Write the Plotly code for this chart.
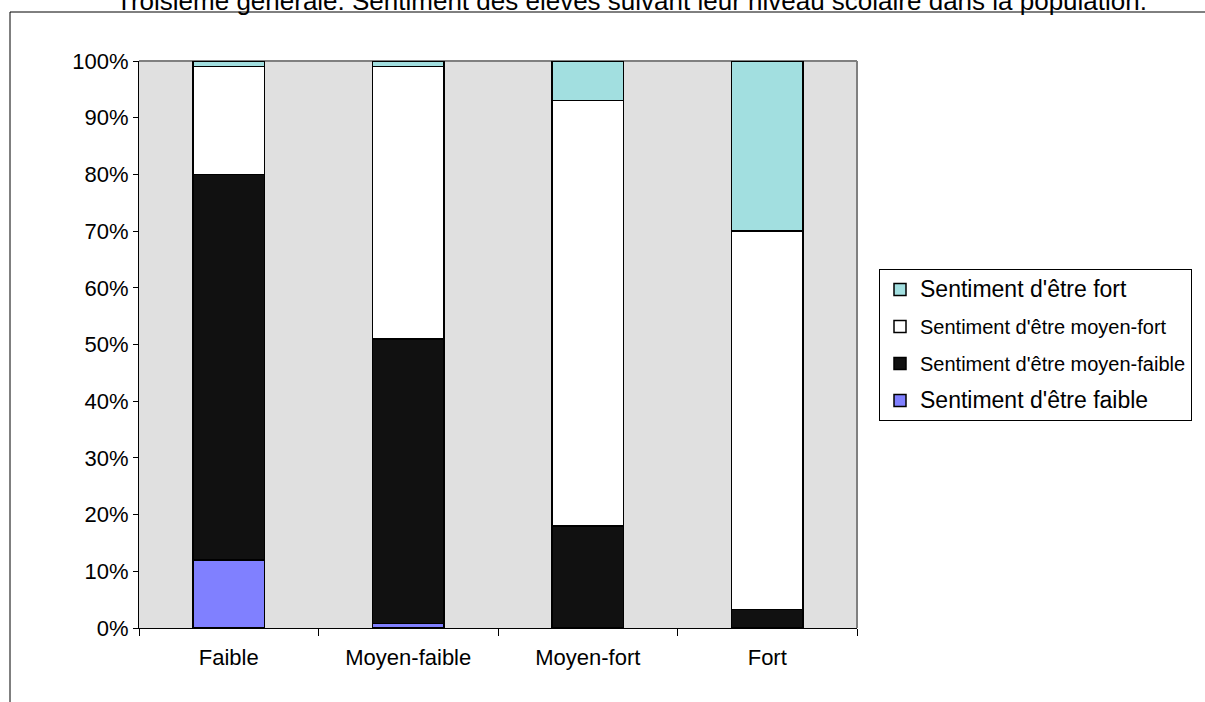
import plotly.graph_objects as go

categories = ["Faible", "Moyen-faible", "Moyen-fort", "Fort"]
faible = [12, 0.8, 0, 0]
moyen_faible = [68, 50.2, 18, 3.3]
moyen_fort = [19, 48, 75, 66.7]
fort = [1, 1, 7, 30]

series_names = [
    "Sentiment d'être faible",
    "Sentiment d'être moyen-faible",
    "Sentiment d'être moyen-fort",
    "Sentiment d'être fort",
]
series_values = [faible, moyen_faible, moyen_fort, fort]
series_colors = ["#8080FF", "#111111", "#FFFFFF", "#A2DFE0"]
legend_sizes = [23, 20, 20, 23]
legend_ranks = [4, 3, 2, 1]

title_text = "Troisième générale. Sentiment des élèves suivant leur niveau scolaire dans la population."
tick_vals = list(range(0, 101, 10))
tick_text = [f"{v}%" for v in tick_vals]

FONT = "Arial, Liberation Sans, sans-serif"

W, H = 1205, 702
L, R, T, B = 139, 348, 61, 74
pw, ph = W - L - R, H - T - B


def px_x(p):
    return (p - L) / pw


def px_y(p):
    return (H - B - p) / ph


fig = go.Figure()
for name, vals, col, fs, rk in zip(series_names, series_values, series_colors,
                                   legend_sizes, legend_ranks):
    fig.add_trace(go.Bar(
        x=categories, y=vals, name=f'<span style="font-size:{fs}px">{name}</span>',
        legendgroup=name, legendrank=rk,
        marker=dict(color=col, line=dict(color="#000000", width=1.5)),
        hoverinfo="skip",
    ))

fig.update_layout(
    width=W, height=H,
    margin=dict(l=L, r=R, t=T, b=B, autoexpand=False),
    paper_bgcolor="white",
    plot_bgcolor="#E0E0E0",
    barmode="stack",
    bargap=0.6,
    font=dict(family=FONT, color="#000000", size=22),
    showlegend=True,
    legend=dict(
        x=px_x(879), y=px_y(269), xanchor="left", yanchor="top",
        bgcolor="white", bordercolor="#000000", borderwidth=1,
        font=dict(family=FONT, size=20, color="#000000"),
        traceorder="grouped", tracegroupgap=8,
    ),
    xaxis=dict(
        type="category", showgrid=False, zeroline=False,
        showline=True, linecolor="#000000", linewidth=1,
        ticks="outside", tickson="boundaries", ticklen=7, tickcolor="#000000",
        tickfont=dict(family=FONT, size=22), ticklabelstandoff=10,
    ),
    xaxis2=dict(
        overlaying="x", anchor="y", range=[-0.5, 3.5], showgrid=False,
        zeroline=False, showline=False, ticks="inside", ticklen=7,
        tickcolor="#000000", tickvals=[-0.5, 0.5, 1.5, 2.5, 3.5],
        showticklabels=False,
    ),
    yaxis=dict(
        range=[0, 100], tickvals=tick_vals, ticktext=tick_text,
        showgrid=False, zeroline=False,
        showline=True, linecolor="#000000", linewidth=1,
        ticks="outside", ticklen=5, tickcolor="#000000",
        tickfont=dict(family=FONT, size=22),
    ),
    shapes=[
        dict(type="line", xref="paper", yref="paper", x0=0, x1=1, y0=1, y1=1,
             line=dict(color="#808080", width=2), layer="below"),
        dict(type="line", xref="paper", yref="paper", x0=1, x1=1, y0=0, y1=1,
             line=dict(color="#808080", width=2), layer="below"),
        dict(type="rect", xref="paper", yref="paper",
             x0=px_x(10), x1=px_x(1215), y0=px_y(712), y1=px_y(12),
             line=dict(color="#000000", width=1), fillcolor="rgba(0,0,0,0)"),
    ],
    annotations=[
        dict(text=title_text, xref="paper", yref="paper",
             x=px_x(631), y=px_y(18), xanchor="center", yanchor="bottom",
             showarrow=False, font=dict(family=FONT, size=26, color="#000000")),
    ],
)

fig.write_html("out.html", config={"displayModeBar": False},
               post_script="document.body.style.margin='0px';")
